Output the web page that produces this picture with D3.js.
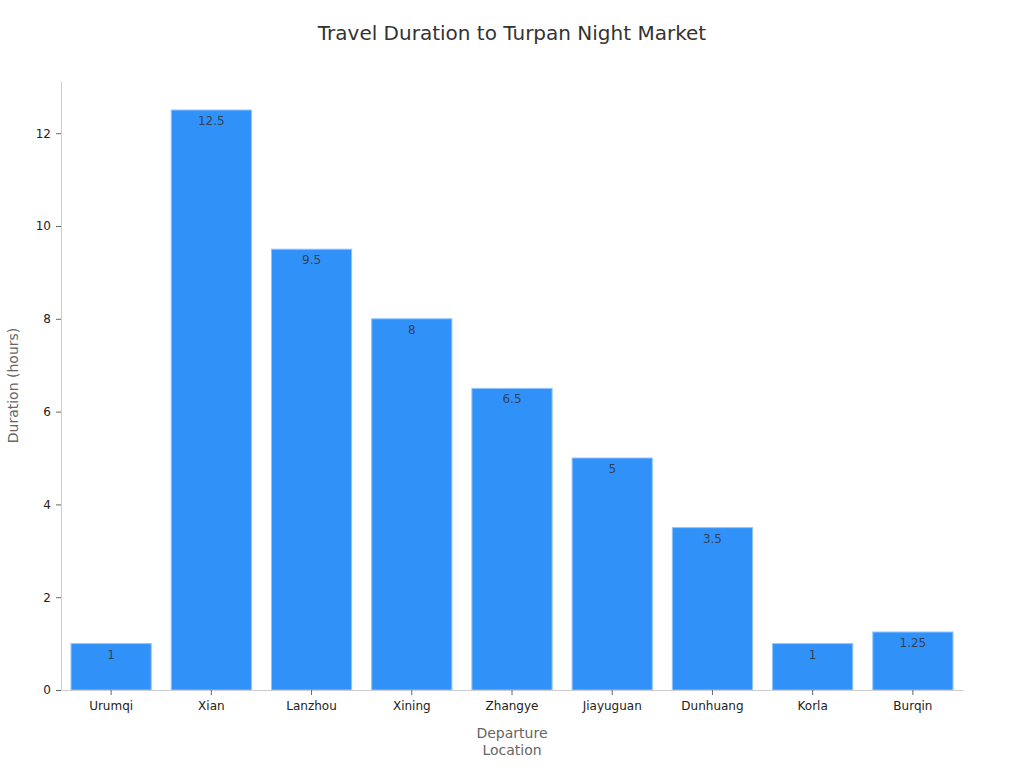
<!DOCTYPE html>
<html>
<head>
<meta charset="utf-8">
<script src="https://cdn.jsdelivr.net/npm/d3@7"></script>
<style>
  body { margin: 0; background: #fff; }
  text { font-family: "DejaVu Sans", sans-serif; }
</style>
</head>
<body>
<div id="chart"></div>
<script>
// data
var locations = ["Urumqi", "Xian", "Lanzhou", "Xining", "Zhangye", "Jiayuguan", "Dunhuang", "Korla", "Burqin"];
var durations = [1, 12.5, 9.5, 8, 6.5, 5, 3.5, 1, 1.25];
var yTicks = [0, 2, 4, 6, 8, 10, 12];

var width = 1024, height = 768;
var margin = {top: 81, right: 61, bottom: 78, left: 61};

var svg = d3.select('#chart').append('svg')
    .attr('width', width)
    .attr('height', height);

var x = d3.scaleBand()
    .domain(locations)
    .range([margin.left, width - margin.right])
    .paddingInner(0.2)
    .paddingOuter(0.1);

var y = d3.scaleLinear()
    .domain([0, d3.max(durations) * 1.05])
    .range([height - margin.bottom, margin.top]);

// title
svg.append('text')
    .attr('x', width / 2)
    .attr('y', 40)
    .attr('text-anchor', 'middle')
    .attr('font-size', 20)
    .attr('fill', '#333')
    .text('Travel Duration to Turpan Night Market');

// bars
var data = locations.map(function(d, i) { return {name: d, value: durations[i]}; });

svg.selectAll('.bar')
    .data(data)
    .enter().append('rect')
    .attr('class', 'bar')
    .attr('x', function(d) { return x(d.name); })
    .attr('width', x.bandwidth())
    .attr('y', function(d) { return y(d.value); })
    .attr('height', function(d) { return y(0) - y(d.value); })
    .attr('fill', '#3091f8')
    .attr('stroke', '#8ec5ff')
    .attr('stroke-width', 1);

svg.selectAll('.lbl')
    .data(data)
    .enter().append('text')
    .attr('class', 'lbl')
    .attr('x', function(d) { return x(d.name) + x.bandwidth() / 2; })
    .attr('y', function(d) { return y(d.value) + 15; })
    .attr('text-anchor', 'middle')
    .attr('font-size', 12)
    .attr('fill', '#333')
    .attr('fill-opacity', 0.85)
    .text(function(d) { return d.value; });

// x axis
var xAxis = svg.append('g')
    .attr('transform', 'translate(0,' + y(0) + ')')
    .call(d3.axisBottom(x).tickSize(5).tickPadding(6).tickSizeOuter(0));
xAxis.select('.domain').attr('stroke', '#ccc');
xAxis.selectAll('.tick line').attr('stroke', '#666');
xAxis.selectAll('.tick text').attr('font-size', 12).attr('fill', '#222')
    .attr('font-family', '"DejaVu Sans", sans-serif');

// y axis
var yAxis = svg.append('g')
    .attr('transform', 'translate(' + margin.left + ',0)')
    .call(d3.axisLeft(y).tickValues(yTicks).tickSize(5).tickPadding(5).tickSizeOuter(0));
yAxis.select('.domain').attr('stroke', '#ccc');
yAxis.selectAll('.tick line').attr('stroke', '#666');
yAxis.selectAll('.tick text').attr('font-size', 12).attr('fill', '#222')
    .attr('font-family', '"DejaVu Sans", sans-serif');

// axis titles
var cx = (margin.left + width - margin.right) / 2;
var xTitle = svg.append('text')
    .attr('x', cx)
    .attr('y', 738)
    .attr('text-anchor', 'middle')
    .attr('font-size', 14)
    .attr('fill', '#666');
xTitle.append('tspan').attr('x', cx).text('Departure');
xTitle.append('tspan').attr('x', cx).attr('dy', 17).text('Location');

svg.append('text')
    .attr('transform', 'translate(18,' + ((margin.top + height - margin.bottom) / 2) + ') rotate(-90)')
    .attr('text-anchor', 'middle')
    .attr('font-size', 14)
    .attr('fill', '#666')
    .text('Duration (hours)');
</script>
</body>
</html>
